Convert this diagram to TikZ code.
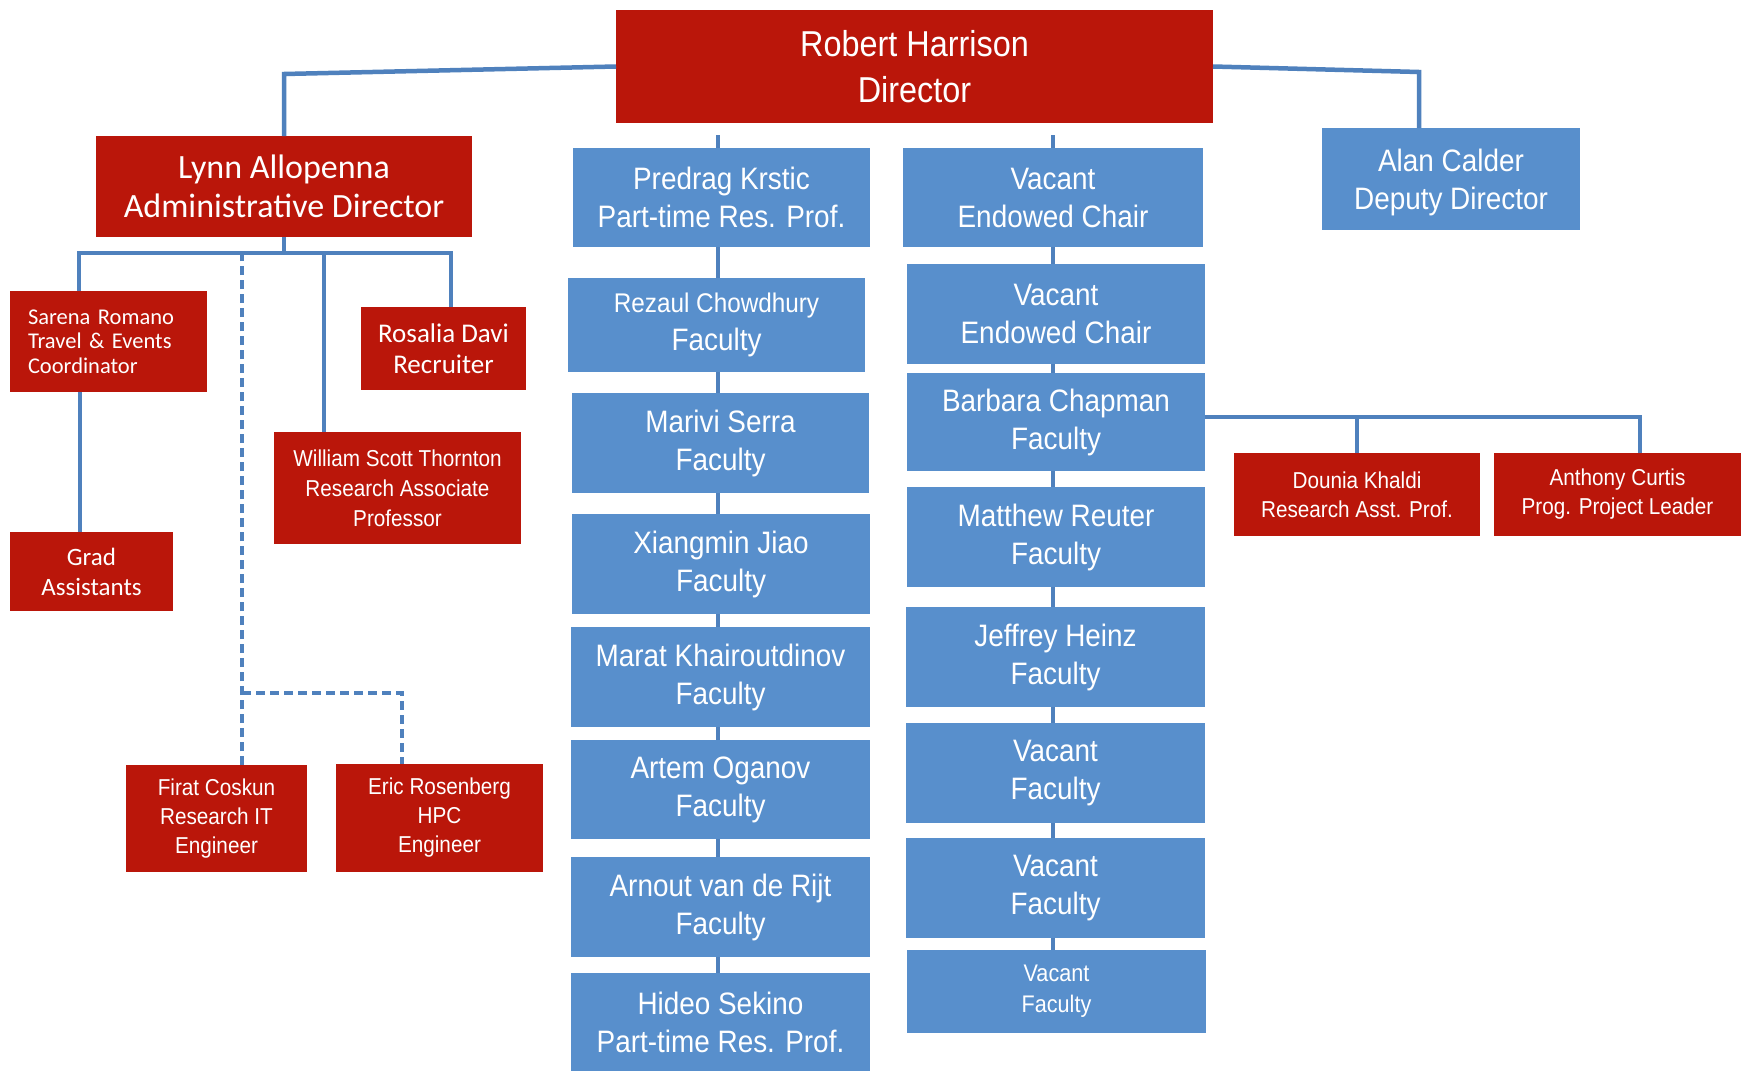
\documentclass[tikz,border=0pt]{standalone}
\usepackage{fontspec}
\newfontfamily\narrowsans[FakeStretch=0.9]{Liberation Sans}
\newfontfamily\calfont{Carlito}
\definecolor{boxred}{RGB}{186,22,10}
\definecolor{boxblue}{RGB}{88,143,204}
\definecolor{linkblue}{RGB}{79,129,189}
\tikzset{
  box/.style={inner sep=0pt, outer sep=0pt, anchor=north west, text=white, align=center},
  redbox/.style={box, fill=boxred},
  bluebox/.style={box, fill=boxblue},
  link/.style={draw=linkblue, line width=4.5pt},
  dlink/.style={draw=linkblue, line width=3.5pt, dash pattern=on 9pt off 5pt},
  fbig/.style={font=\narrowsans\fontsize{36}{46}\selectfont},
  fblue/.style={font=\narrowsans\fontsize{31}{38}\selectfont},
  fsmallblue/.style={font=\narrowsans\fontsize{24}{31}\selectfont},
  fred/.style={font=\narrowsans\fontsize{23}{29}\selectfont},
}
\newcommand\mkbox[7]{\node[#1, minimum width={(#5-#3)*1pt}, minimum height={(#6-#4)*1pt}] (#2) at (#3,#4) {#7};}
\begin{document}
\begin{tikzpicture}[x=1pt,y=-1pt]
\fill[white] (0,0) rectangle (1746,1071);
\useasboundingbox (0,0) rectangle (1746,1071);
% top
\mkbox{redbox,fbig}{rh}{616}{10}{1213}{123}{Robert Harrison\\Director}
\mkbox{redbox,font=\calfont\fontsize{34}{39}\selectfont}{lynn}{96}{136}{472}{237}{Lynn Allopenna\\Administrative Director}
\mkbox{bluebox,fblue,text depth=-6pt}{alan}{1322}{128}{1580}{230}{Alan Calder\\Deputy Director}
% admin side
\mkbox{redbox,font=\calfont\fontsize{22.5}{24.5}\selectfont,text width=161pt,align=left}{sarena}{10}{291}{207}{392}{Sarena Romano\\Travel \& Events\\Coordinator}
\mkbox{redbox,font=\calfont\fontsize{27}{31}\selectfont}{rosalia}{361}{307}{526}{390}{Rosalia Davi\\Recruiter}
\mkbox{redbox,font=\narrowsans\fontsize{23}{30}\selectfont}{william}{274}{432}{521}{544}{William Scott Thornton\\Research Associate\\Professor}
\mkbox{redbox,font=\calfont\fontsize{25}{30}\selectfont}{grad}{10}{532}{173}{611}{Grad\\Assistants}
\mkbox{redbox,fred}{firat}{126}{765}{307}{872}{Firat Coskun\\Research IT\\Engineer}
\mkbox{redbox,fred}{eric}{336}{764}{543}{872}{Eric Rosenberg\\HPC\\Engineer}
% left column
\mkbox{bluebox,fblue}{predrag}{573}{148}{870}{247}{Predrag Krstic\\Part-time Res. Prof.}
\mkbox{bluebox,fblue}{rezaul}{568}{278}{865}{372}{{\fontsize{27}{38}\selectfont Rezaul Chowdhury}\\Faculty}
\mkbox{bluebox,fblue}{marivi}{572}{393}{869}{493}{Marivi Serra\\Faculty}
\mkbox{bluebox,fblue}{jiao}{572}{514}{870}{614}{Xiangmin Jiao\\Faculty}
\mkbox{bluebox,fblue}{marat}{571}{627}{870}{727}{Marat Khairoutdinov\\Faculty}
\mkbox{bluebox,fblue}{artem}{571}{740}{870}{839}{Artem Oganov\\Faculty}
\mkbox{bluebox,fblue}{arnout}{571}{857}{870}{957}{Arnout van de Rijt\\Faculty}
\mkbox{bluebox,fblue}{hideo}{571}{973}{870}{1071}{Hideo Sekino\\Part-time Res. Prof.}
% right column
\mkbox{bluebox,fblue}{vec1}{903}{148}{1203}{247}{Vacant\\Endowed Chair}
\mkbox{bluebox,fblue}{vec2}{907}{264}{1205}{364}{Vacant\\Endowed Chair}
\mkbox{bluebox,fblue}{barbara}{907}{373}{1205}{471}{Barbara Chapman\\Faculty}
\mkbox{bluebox,fblue}{reuter}{907}{487}{1205}{587}{Matthew Reuter\\Faculty}
\mkbox{bluebox,fblue}{heinz}{906}{607}{1205}{707}{Jeffrey Heinz\\Faculty}
\mkbox{bluebox,fblue}{vac1}{906}{723}{1205}{823}{Vacant\\Faculty}
\mkbox{bluebox,fblue}{vac2}{906}{838}{1205}{938}{Vacant\\Faculty}
\mkbox{bluebox,fsmallblue}{vac3}{907}{950}{1206}{1033}{Vacant\\Faculty}
% Barbara's reports
\mkbox{redbox,fred}{dounia}{1234}{453}{1480}{536}{Dounia Khaldi\\Research Asst. Prof.}
\mkbox{redbox,fred}{anthony}{1494}{453}{1741}{536}{Anthony Curtis\\Prog. Project Leader}
% connectors
\draw[link] (rh.west) -- (lynn.north |- 0,74) -- (lynn.north);
\draw[link] (rh.east) -- (1419,72) -- (alan.north -| 1419,0);
\coordinate (busL) at (79,253);
\coordinate (busR) at (451,253);
\draw[link] (lynn.south) -- (lynn.south |- busL);
\draw[link] (sarena.north -| busL) -- (busL) -- (busR) -- (rosalia.north -| busR);
\draw[link] (william.north -| 324,0) -- (324,253);
\draw[link] (sarena.south -| 80,0) -- (grad.north -| 80,0);
\draw[dlink] (firat.north -| 242,0) -- (242,253);
\draw[dlink] (242,693) -- (402,693) -- (eric.north -| 402,0);
% left column links
\coordinate (lc) at (718,135);
\draw[link] (lc) -- (predrag.north -| lc);
\foreach \a/\b in {predrag/rezaul,rezaul/marivi,marivi/jiao,jiao/marat,marat/artem,artem/arnout,arnout/hideo}
  \draw[link] (\a.south -| lc) -- (\b.north -| lc);
% right column links
\coordinate (rc) at (1053,135);
\draw[link] (rc) -- (vec1.north -| rc);
\foreach \a/\b in {vec1/vec2,vec2/barbara,barbara/reuter,reuter/heinz,heinz/vac1,vac1/vac2,vac2/vac3}
  \draw[link] (\a.south -| rc) -- (\b.north -| rc);
% Barbara
\draw[link] (barbara.east |- 0,417) -- (1640,417) -- (anthony.north -| 1640,0);
\draw[link] (1357,417) -- (dounia.north -| 1357,0);
\end{tikzpicture}
\end{document}
